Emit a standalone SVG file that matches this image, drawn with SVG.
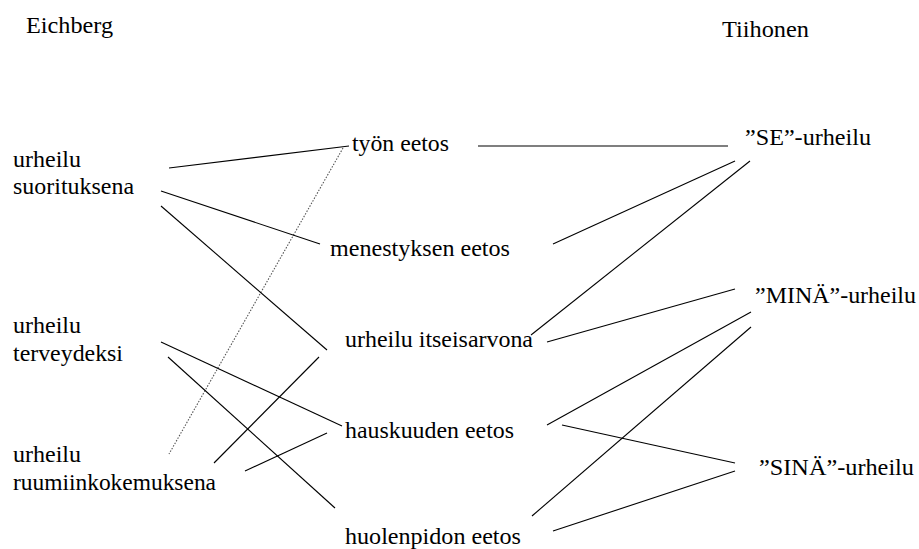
<svg xmlns="http://www.w3.org/2000/svg" width="919" height="549" viewBox="0 0 919 549">
<style>
text{font-family:"Liberation Serif","Times New Roman",serif;font-size:24px;fill:#000}
.c line{stroke:#000;stroke-width:1.1}
.c line.d{stroke:#555;stroke-dasharray:1.5 1.5}
</style>
<rect width="919" height="549" fill="#fff"/>
<g id="head-eichberg"><text x="26" y="33" textLength="87" lengthAdjust="spacingAndGlyphs">Eichberg</text></g>
<g id="head-tiihonen"><text x="722" y="37" textLength="87" lengthAdjust="spacingAndGlyphs">Tiihonen</text></g>
<g id="n-suoritus"><text x="13" y="167" textLength="68" lengthAdjust="spacingAndGlyphs">urheilu</text><text x="13" y="194" textLength="121" lengthAdjust="spacingAndGlyphs">suorituksena</text></g>
<g id="n-terveys"><text x="13" y="333" textLength="68" lengthAdjust="spacingAndGlyphs">urheilu</text><text x="13" y="361" textLength="110" lengthAdjust="spacingAndGlyphs">terveydeksi</text></g>
<g id="n-ruumiin"><text x="13" y="462" textLength="68" lengthAdjust="spacingAndGlyphs">urheilu</text><text x="13" y="490" textLength="203" lengthAdjust="spacingAndGlyphs">ruumiinkokemuksena</text></g>
<g id="n-tyon"><text x="352" y="151" textLength="97" lengthAdjust="spacingAndGlyphs">työn eetos</text></g>
<g id="n-menestys"><text x="330" y="256" textLength="180" lengthAdjust="spacingAndGlyphs">menestyksen eetos</text></g>
<g id="n-itseis"><text x="345" y="347" textLength="188" lengthAdjust="spacingAndGlyphs">urheilu itseisarvona</text></g>
<g id="n-hausk"><text x="345" y="438" textLength="169" lengthAdjust="spacingAndGlyphs">hauskuuden eetos</text></g>
<g id="n-huolen"><text x="345" y="544" textLength="176" lengthAdjust="spacingAndGlyphs">huolenpidon eetos</text></g>
<g id="n-se"><text x="745" y="145" textLength="126" lengthAdjust="spacingAndGlyphs">”SE”-urheilu</text></g>
<g id="n-mina"><text x="755" y="303" textLength="161" lengthAdjust="spacingAndGlyphs">”MINÄ”-urheilu</text></g>
<g id="n-sina"><text x="759" y="475" textLength="155" lengthAdjust="spacingAndGlyphs">”SINÄ”-urheilu</text></g>
<g id="connectors" class="c">
<line x1="169" y1="168" x2="349" y2="146"/>
<line class="d" x1="343" y1="148" x2="169" y2="454"/>
<line x1="161" y1="191" x2="320" y2="244"/>
<line x1="161" y1="206" x2="327" y2="350"/>
<line x1="161" y1="342" x2="342" y2="426"/>
<line x1="168" y1="357" x2="335" y2="508"/>
<line x1="214" y1="463" x2="319" y2="357"/>
<line x1="245" y1="471" x2="327" y2="433"/>
<line x1="478" y1="146" x2="728" y2="146"/>
<line x1="735" y1="161" x2="553" y2="244"/>
<line x1="750" y1="161" x2="531" y2="335"/>
<line x1="547" y1="342" x2="735" y2="289"/>
<line x1="547" y1="425" x2="751" y2="312"/>
<line x1="532" y1="516" x2="751" y2="327"/>
<line x1="562" y1="425" x2="735" y2="463"/>
<line x1="553" y1="531" x2="735" y2="471"/>
</g>
</svg>
